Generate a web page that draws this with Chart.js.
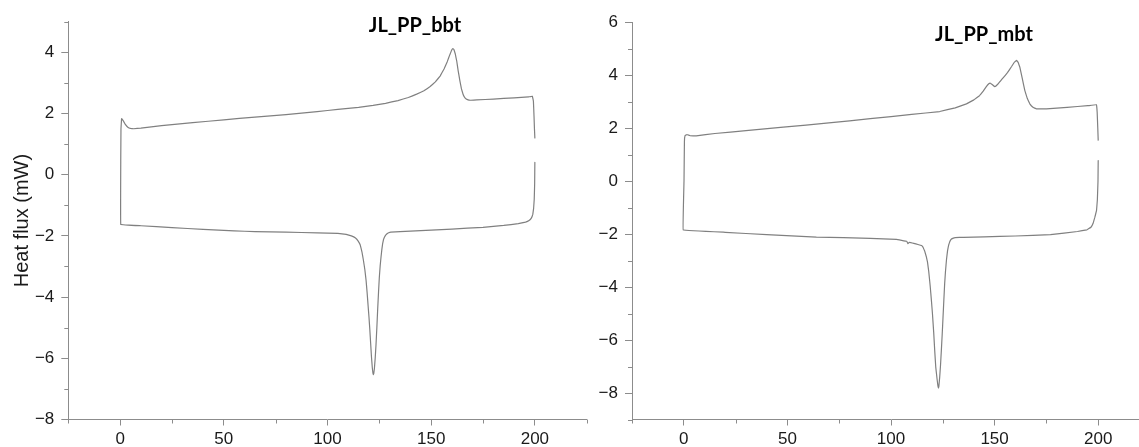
<!DOCTYPE html>
<html>
<head>
<meta charset="utf-8">
<title>DSC JL_PP</title>
<script src="https://cdn.jsdelivr.net/npm/chart.js@4.4.1/dist/chart.umd.min.js"></script>
<style>
  html, body { margin: 0; padding: 0; background: #fff; width: 1139px; height: 447px; overflow: hidden; position: relative; }
  .panel { position: absolute; top: 0; }
  .panel canvas { display: block; }
  .plot-title {
    position: absolute;
    font-family: Lato, 'Open Sans', sans-serif;
    font-weight: bold;
    font-size: 20px;
    color: #000;
    white-space: nowrap;
    transform: translateX(-50%);
  }
</style>
</head>
<body>
<div class="panel" style="left:0"><canvas id="chart-bbt" width="600" height="470"></canvas></div>
<div class="panel" style="left:560px"><canvas id="chart-mbt" width="600" height="470"></canvas></div>
<div class="plot-title" style="left:415px;top:12px">JL_PP_bbt</div>
<div class="plot-title" style="left:984px;top:21px">JL_PP_mbt</div>

<script>
// temperature (°C) / heat flux (mW), one continuous loop per sample
const bbtTemp = [
  200, 199.9, 199.7, 199.4, 199.0, 198.3, 197.2, 195.5, 192, 185, 175, 160, 145, 135,
  130.5, 129.5, 128.7, 128, 127.5, 127, 126.6, 126.2, 125.8, 125.4, 125, 124.6, 124.2, 123.8,
  123.4, 123, 122.6, 122.3, 122.1, 121.9, 121.6, 121.2, 120.8, 120.4, 120, 119.6, 119.1, 118.6,
  118, 117.3, 116.6, 115.8, 114.8, 113.5, 111.5, 109, 105, 95, 80,
  65, 55, 40, 25, 10, 0.3,
  0.3, 0.4, 0.7, 1.5, 2.5, 3.7, 5, 6.5, 10, 20, 35, 50, 65, 80, 95, 105, 115, 122, 128, 134,
  139, 143, 146.5, 149.5, 152, 154.3, 156.2, 157.8, 159, 159.9, 160.5, 161, 161.6, 162.3, 163,
  163.8, 164.6, 165.5, 166.4, 167.5, 169, 172, 180, 190, 197, 198.8, 199.3, 199.6, 199.8, 200
];
const bbtFlux = [
  0.4, -0.3, -0.8, -1.1, -1.3, -1.42, -1.5, -1.55, -1.6, -1.66, -1.72, -1.78, -1.83, -1.86,
  -1.88, -1.9, -1.93, -1.98, -2.04, -2.12, -2.25, -2.45, -2.7, -2.98, -3.35, -3.85, -4.4, -5.0,
  -5.55, -6.0, -6.35, -6.5, -6.53, -6.48, -6.3, -5.95, -5.5, -5.05, -4.65, -4.3, -3.85, -3.45,
  -3.1, -2.79, -2.52, -2.3, -2.17, -2.07, -2.0, -1.95, -1.92, -1.9, -1.88,
  -1.86, -1.84, -1.79, -1.73, -1.67, -1.63,
  0.5, 1.5, 1.83, 1.76, 1.64, 1.55, 1.51, 1.5, 1.52, 1.6, 1.7, 1.79, 1.88, 1.96, 2.06, 2.13, 2.2, 2.26, 2.33, 2.42,
  2.52, 2.63, 2.74, 2.88, 3.03, 3.22, 3.45, 3.7, 3.92, 4.07, 4.12, 4.08, 3.95, 3.72, 3.4,
  3.08, 2.8, 2.6, 2.5, 2.45, 2.43, 2.44, 2.47, 2.51, 2.54, 2.56, 2.4, 1.9, 1.5, 1.2
];

const mbtTemp = [
  200, 199.9, 199.6, 199.2, 198.4, 197.5, 196.5, 194.5, 190, 177, 160, 145, 135,
  131, 129.8, 129, 128.3, 127.8, 127.3, 126.8, 126.3, 125.9, 125.5, 125.1, 124.7, 124.3, 123.9,
  123.5, 123.1, 122.9, 122.6, 122.2, 121.6, 121.1, 120.6, 120, 119.5, 118.9, 118.2, 117.6,
  117.1, 116.3, 115.5, 114.7, 113, 111, 109.5, 108.8, 108.2, 107.6, 102.6, 90, 64, 40, 20, -0.3,
  0.1, 0.3, 0.6, 1.5, 3, 6, 15, 30, 48, 70, 90, 110, 123.5, 131, 136.4, 140, 142.7, 144.5,
  146, 147.2, 148, 149, 150.1, 151.5, 153, 154.1, 156.2, 158.2, 159.6, 160.6, 161.4, 162.2,
  163.3, 164.6, 165.8, 167, 168.5, 170.2, 175, 185, 195, 199.2, 199.5, 199.8, 200
];
const mbtFlux = [
  0.78, 0, -0.7, -1.1, -1.36, -1.6, -1.74, -1.84, -1.9, -2.02, -2.07, -2.1, -2.12,
  -2.13, -2.16, -2.2, -2.3, -2.42, -2.62, -2.95, -3.4, -3.87, -4.5, -5.15, -5.8, -6.39, -6.95,
  -7.4, -7.75, -7.81, -7.7, -7.45, -7.02, -6.4, -5.7, -5.0, -4.5, -3.95, -3.4, -3.05,
  -2.87, -2.65, -2.5, -2.43, -2.39, -2.35, -2.32, -2.31, -2.36, -2.27, -2.2, -2.16, -2.11, -2.02, -1.93, -1.84,
  0, 1.5, 1.72, 1.76, 1.72, 1.71, 1.8, 1.91, 2.04, 2.2, 2.36, 2.52, 2.63, 2.77, 2.92, 3.07, 3.23, 3.4,
  3.57, 3.68, 3.7, 3.64, 3.57, 3.66, 3.8, 3.9, 4.1, 4.33, 4.5, 4.56, 4.48, 4.3,
  3.9, 3.42, 3.12, 2.92, 2.79, 2.73, 2.73, 2.79, 2.85, 2.89, 2.6, 2.0, 1.55
];

const xMajor = [0, 50, 100, 150, 200];
const xMinor = [-25, 25, 75, 125, 175, 225];
const bbtYMajor = [-8, -6, -4, -2, 0, 2, 4];
const bbtYMinor = [-7, -5, -3, -1, 1, 3, 5];
const mbtYMajor = [-8, -6, -4, -2, 0, 2, 4, 6];
const mbtYMinor = [-9, -7, -5, -3, -1, 1, 3, 5];

const axisColor = '#8c8c8c';
const lineColor = '#808080';
const labelColor = '#1a1a1a';
const tickFont = { family: "'Liberation Sans', Arial, sans-serif", size: 17 };

const minorTicks = {
  id: 'minorTicks',
  afterDraw(chart, args, opts) {
    const { ctx } = chart;
    const { x, y } = chart.scales;
    ctx.save();
    ctx.strokeStyle = axisColor;
    ctx.lineWidth = 1;
    ctx.beginPath();
    opts.x.forEach((v) => {
      const px = Math.round(x.getPixelForValue(v)) + 0.5;
      ctx.moveTo(px, x.top);
      ctx.lineTo(px, x.top + 4);
    });
    opts.y.forEach((v) => {
      const py = Math.round(y.getPixelForValue(v)) + 0.5;
      ctx.moveTo(y.right, py);
      ctx.lineTo(y.right - 4, py);
    });
    ctx.stroke();
    ctx.restore();
  },
};

const minusLabel = (v) => (v < 0 ? '\u2212' + Math.abs(v) : String(v));

function drawPanel(id, temps, flux, cfg) {
  const canvas = document.getElementById(id);
  const points = temps.map((t, i) => ({ x: t, y: flux[i] }));

  return new Chart(canvas.getContext('2d'), {
    type: 'scatter',
    data: {
      datasets: [
        {
          data: points,
          showLine: true,
          borderColor: lineColor,
          borderWidth: 1.2,
          borderJoinStyle: 'round',
          borderCapStyle: 'round',
          pointRadius: 0,
          // tiny tension keeps the lines straight but skips Chart.js' pixel-merging fast path
          tension: 0.02,
        },
      ],
    },
    plugins: [minorTicks],
    options: {
      responsive: false,
      animation: false,
      layout: { padding: { top: cfg.top, right: cfg.right, left: 0, bottom: 0 } },
      plugins: {
        legend: { display: false },
        tooltip: { enabled: false },
        minorTicks: { x: xMinor, y: cfg.yMinor },
      },
      scales: {
        x: {
          type: 'linear',
          position: 'bottom',
          min: -25,
          max: 225,
          afterBuildTicks: (s) => { s.ticks = xMajor.map((v) => ({ value: v })); },
          afterFit: (s) => { s.height = 470 - 419.5; },
          grid: { drawOnChartArea: false, tickLength: 6, color: axisColor },
          border: { color: axisColor },
          ticks: { font: tickFont, color: labelColor, padding: 4, maxRotation: 0, autoSkip: false },
        },
        y: {
          type: 'linear',
          min: cfg.yMin,
          max: cfg.yMax,
          afterBuildTicks: (s) => { s.ticks = cfg.yMajor.map((v) => ({ value: v })); },
          afterFit: (s) => { s.width = cfg.yWidth; },
          grid: { drawOnChartArea: false, tickLength: 7, color: axisColor },
          border: { color: axisColor },
          ticks: { font: tickFont, color: labelColor, padding: 7, autoSkip: false, callback: minusLabel },
          title: {
            display: cfg.yTitle,
            text: 'Heat flux (mW)',
            color: labelColor,
            font: { family: "'Liberation Sans', Arial, sans-serif", size: 20 },
            padding: { top: 10, bottom: 0 },
          },
        },
      },
    },
  });
}

drawPanel('chart-bbt', bbtTemp, bbtFlux, {
  yMin: -8, yMax: 5, yMajor: bbtYMajor, yMinor: bbtYMinor,
  yWidth: 68.3, top: 21.6, right: 13.3, yTitle: true,
});
drawPanel('chart-mbt', mbtTemp, mbtFlux, {
  yMin: -9, yMax: 6, yMajor: mbtYMajor, yMinor: mbtYMinor,
  yWidth: 72, top: 22.3, right: 10, yTitle: false,
});
</script>
</body>
</html>
